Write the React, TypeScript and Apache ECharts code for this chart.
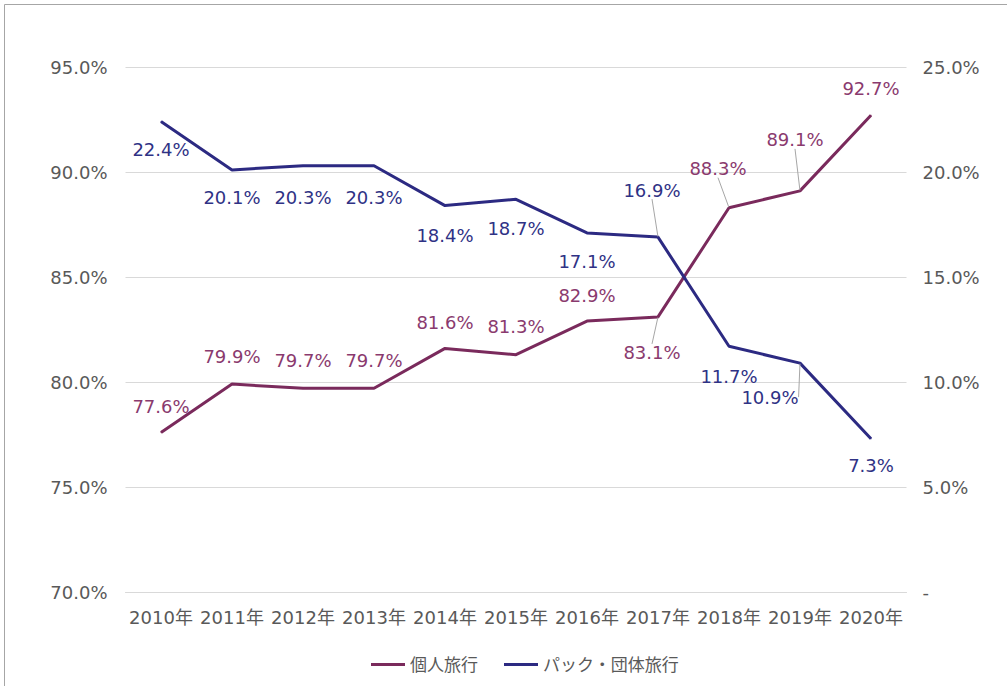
import React, { useEffect, useRef } from "react";
import * as echarts from "echarts";

const categories = ["2010年", "2011年", "2012年", "2013年", "2014年", "2015年", "2016年", "2017年", "2018年", "2019年", "2020年"];
const individual = [77.6, 79.9, 79.7, 79.7, 81.6, 81.3, 82.9, 83.1, 88.3, 89.1, 92.7];
const packageGroup = [22.4, 20.1, 20.3, 20.3, 18.4, 18.7, 17.1, 16.9, 11.7, 10.9, 7.3];
const seriesNames = ["個人旅行", "パック・団体旅行"];

// label offsets (dx, dy) from each point
const indivOffsets = [[0, -26], [0, -28], [0, -28], [0, -28], [0, -26], [0, -28], [0, -26], [-6, 36], [-11, -39], [-5, -51], [0, -27]];
const packOffsets = [[0, 28], [0, 28], [0, 32], [0, 32], [0, 30], [0, 29], [0, 29], [-6, -47], [0, 30], [-30, 34], [0, 27]];
const indivLeader = [7, 8, 9];
const packLeader = [7, 9];

const FONT = "'DejaVu Sans', 'Noto Sans CJK JP', sans-serif";
const MAROON = "#7a2a5c";
const NAVY = "#2c2a82";
const FS = 18;

export default function App() {
  const ref = useRef<HTMLDivElement>(null);
  useEffect(() => {
    document.body.style.margin = "0";
    const chart = echarts.init(ref.current!, null, { renderer: "svg" });
    const mkData = (vals: number[], leaders: number[]) =>
      vals.map((v, i) => ({
        value: v,
        labelLine: { show: leaders.includes(i) },
      }));
    chart.setOption({
      animation: false,
      backgroundColor: "#ffffff",
      textStyle: { fontFamily: FONT },
      graphic: [
        {
          type: "rect",
          shape: { x: 4.5, y: 4.5, width: 1010, height: 700 },
          style: { fill: "none", stroke: "#a6a6a6", lineWidth: 1 },
          silent: true,
        },
      ],
      grid: { left: 125.5, right: 100.5, top: 67, bottom: 94 },
      legend: {
        data: seriesNames,
        left: 366,
        top: 651,
        icon: "rect",
        itemWidth: 34,
        itemHeight: 3,
        itemGap: 26,
        textStyle: { color: "#595959", fontSize: 17, fontFamily: FONT },
      },
      xAxis: {
        type: "category",
        data: categories,
        boundaryGap: true,
        axisLine: { show: true, lineStyle: { color: "#d9d9d9" } },
        axisTick: { show: false },
        axisLabel: { color: "#595959", fontSize: FS, margin: 16, interval: 0, fontFamily: FONT },
      },
      yAxis: [
        {
          type: "value",
          min: 70,
          max: 95,
          interval: 5,
          axisLine: { show: false },
          axisTick: { show: false },
          splitLine: { lineStyle: { color: "#d9d9d9" } },
          axisLabel: {
            color: "#595959",
            fontSize: FS,
            margin: 18,
            fontFamily: FONT,
            formatter: (v: number) => v.toFixed(1) + "%",
          },
        },
        {
          type: "value",
          min: 0,
          max: 25,
          interval: 5,
          axisLine: { show: false },
          axisTick: { show: false },
          splitLine: { show: false },
          axisLabel: {
            color: "#595959",
            fontSize: FS,
            margin: 16,
            fontFamily: FONT,
            formatter: (v: number) => (v === 0 ? "-" : v.toFixed(1) + "%"),
          },
        },
      ],
      series: [
        {
          name: seriesNames[0],
          type: "line",
          yAxisIndex: 0,
          data: mkData(individual, indivLeader),
          symbol: "circle",
          symbolSize: 1,
          showSymbol: true,
          color: MAROON,
          lineStyle: { color: MAROON, width: 3 },
          label: {
            show: true,
            position: "inside",
            color: "#8a3a6e",
            fontSize: FS,
            fontFamily: FONT,
            formatter: (p: any) => p.value.toFixed(1) + "%",
          },
          labelLine: { show: false, lineStyle: { color: "#a6a6a6", width: 1 } },
          labelLayout: (p: any) => ({ dx: indivOffsets[p.dataIndex][0], dy: indivOffsets[p.dataIndex][1] }),
          z: 2,
        },
        {
          name: seriesNames[1],
          type: "line",
          yAxisIndex: 1,
          data: mkData(packageGroup, packLeader),
          symbol: "circle",
          symbolSize: 1,
          showSymbol: true,
          color: NAVY,
          lineStyle: { color: NAVY, width: 3 },
          label: {
            show: true,
            position: "inside",
            color: "#2f3285",
            fontSize: FS,
            fontFamily: FONT,
            formatter: (p: any) => p.value.toFixed(1) + "%",
          },
          labelLine: { show: false, lineStyle: { color: "#a6a6a6", width: 1 } },
          labelLayout: (p: any) => ({ dx: packOffsets[p.dataIndex][0], dy: packOffsets[p.dataIndex][1] }),
          z: 3,
        },
      ],
    });
    return () => chart.dispose();
  }, []);
  return <div ref={ref} style={{ width: 1007, height: 686, position: "absolute", left: 0, top: 0 }} />;
}
